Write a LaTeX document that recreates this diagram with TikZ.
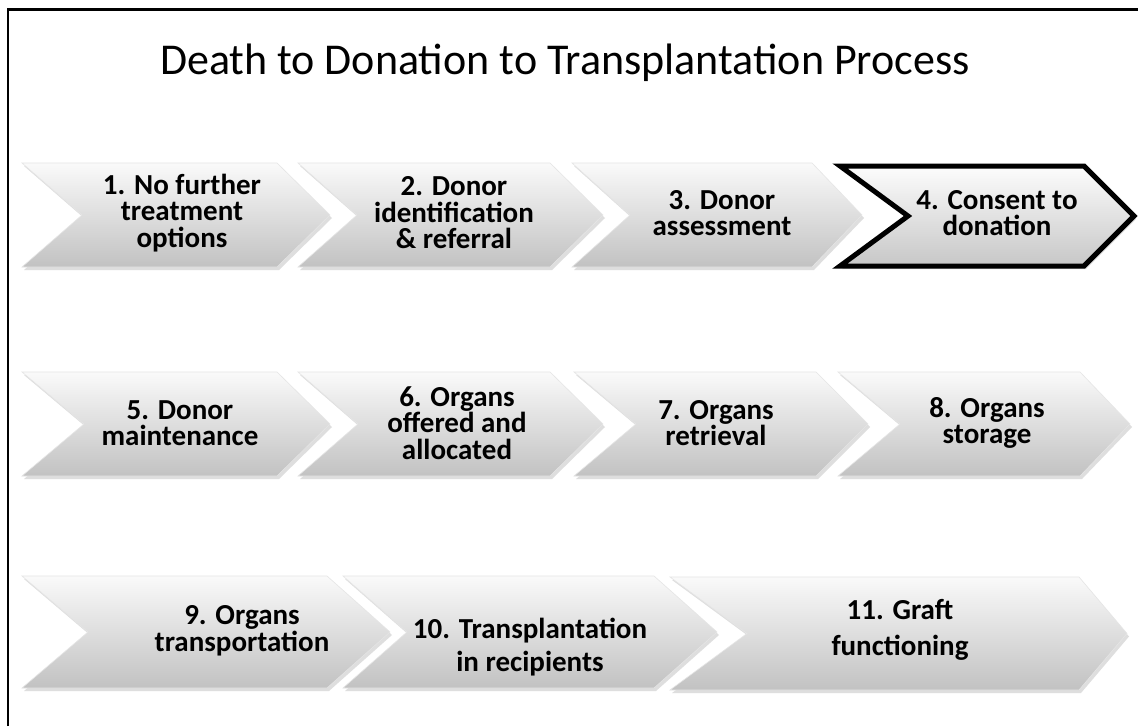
\documentclass[tikz,border=0pt]{standalone}
\usepackage{fontspec}
\setmainfont{Carlito}
\usetikzlibrary{calc}
\def\chevron[#1](#2,#3)(#4:#5:#6:#7){%
  \fill[black!13, shift={(2,3)}] (#2,#3) -- ++(#4-#7,0) -- ++(#7,#5/2) -- ++(-#7,#5/2) -- ++(-#4+#7,0) -- ++(#6,-#5/2) -- cycle;
  \draw[#1] (#2,#3) -- ++(#4-#7,0) -- ++(#7,#5/2) -- ++(-#7,#5/2) -- ++(-#4+#7,0) -- ++(#6,-#5/2) -- cycle;}
\tikzset{
  chev/.style={draw=black!10, line width=0.6pt, top color=black!2, bottom color=black!24, line join=miter},
  chevsel/.style={draw=black, line width=5pt, top color=black!1, bottom color=black!22, line join=miter},
  steptext/.style={font=\bfseries\fontsize{29}{26.5}\selectfont, align=center, text=black}
}

\begin{document}
\begin{tikzpicture}[x=1pt, y=-1pt]
			%%%%% START %%%%%
			\useasboundingbox (0,0) rectangle (1138,726);
			\fill[white] (0,0) rectangle (1138,726);
			
			\draw[line width=2.7pt] (8,726) -- (8,9.5) -- (1138,9.5);
			
			\node[font=\fontsize{44}{48}\selectfont] (title) at (565,63) {Death to Donation to Transplantation Process};
			
			%% first row
			\chevron[chev](22,163)(308:104:60:53)
			\chevron[chev](298,163)(305:104:59:53)
			\chevron[chev](572,163)(290:104:58:50)
			\chevron[chevsel](840,166)(294:100:68:50)
			
			\node[steptext] (s1) at (182,213) {1. No further\\treatment\\options};
			\node[steptext] (s2) at (454,213) {2. Donor\\identification\\\& referral};
			\node[steptext] (s3) at (722,213) {3. Donor\\assessment};
			\node[steptext] (s4) at (997,213) {4. Consent to\\donation};
			
			%% second row
			\chevron[chev](22,372)(308:104:62:53)
			\chevron[chev](298,372)(305:104:60:53)
			\chevron[chev](574,372)(294:104:62:52)
			\chevron[chev](838,372)(292:104:62:50)
			
			\node[steptext] (s5) at (180,423) {5. Donor\\maintenance};
			\node[steptext] (s6) at (457,423) {6. Organs\\offered and\\allocated};
			\node[steptext] (s7) at (716,423) {7. Organs\\retrieval};
			\node[steptext] (s8) at (987,423) {8. Organs\\storage};
			
			%% third row
			\chevron[chev](22,576)(368:112:66:63)
			\chevron[chev](343,576)(374:112:64:63)
			\chevron[chev](670,577)(457:113:77:48)
			
			\node[steptext] (s9) at (242,631) {9. Organs\\transportation};
			\node[steptext, font=\bfseries\fontsize{29}{33}\selectfont] (s10) at (530,647) {10. Transplantation\\in recipients};
			\node[steptext, font=\bfseries\fontsize{29}{36}\selectfont] (s11) at (900,630) {11. Graft\\functioning};
			
			%%%%% END %%%%%
\end{tikzpicture}
\end{document}
